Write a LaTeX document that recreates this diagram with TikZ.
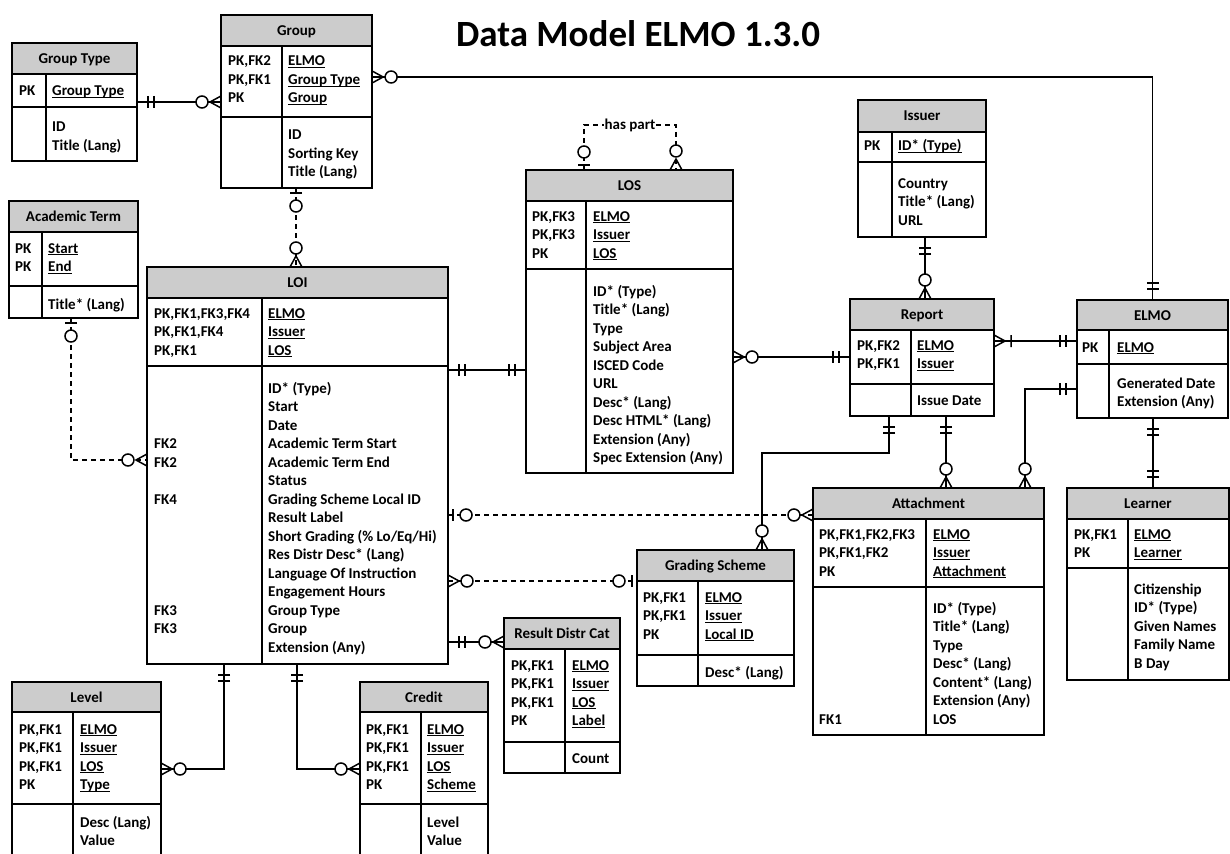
\documentclass[tikz,border=0pt]{standalone}
\usepackage{fontspec}
\setmainfont{Carlito}
\usetikzlibrary{fit,decorations.markings}
\definecolor{headgray}{RGB}{204,204,204}
\newcommand\bodyfont{\fontsize{15}{18}\selectfont\bfseries}
\newcommand\titlefont{\fontsize{37}{44}\selectfont\bfseries}
\newsavebox\keybox
\newcommand\keyname[1]{\sbox\keybox{#1}\rlap{\rule[-2.4pt]{\wd\keybox}{1.2pt}}\usebox\keybox}
% ER end symbols, drawn along the path direction (end at x=0)
\newcommand\erOne{\draw[sym] (-11,-6) -- (-11,6) (-17,-6) -- (-17,6);}
\newcommand\erZeroMany{\draw[sym] (0,-6) -- (-11,0) -- (0,6); \draw[sym,fill=white] (-19,0) circle (6pt);}
\newcommand\erZeroOne{\draw[sym] (-5,-6) -- (-5,6); \draw[sym,fill=white] (-18,0) circle (6pt);}
\newcommand\erOneMany{\draw[sym] (0,-6) -- (-11,0) -- (0,6) (-17,-6) -- (-17,6);}
\tikzset{
  cell/.style={anchor=base west, inner sep=0pt, font=\bodyfont},
  head/.style={anchor=base, inner sep=0pt, font=\bodyfont},
  rel/.style={line width=1.5pt},
  rdash/.style={dash pattern=on 5pt off 4pt},
  sym/.style={solid, line width=1.5pt},
  sym end/.style={postaction={decorate,decoration={markings,mark=at position 0.9999 with {#1}}}},
  sym start/.style={postaction={decorate,decoration={markings,mark=at position 0.0001 with {\begin{scope}[xscale=-1]#1\end{scope}}}}},
}
% name, title, x1, y1, x2, y2, header bottom, key bottom, divider
\newcommand\entity[9]{%
  \fill[headgray] (#3,#4) rectangle (#5,#7);
  \draw[line width=1.7pt] (#3,#7) -- (#5,#7) (#3,#8) -- (#5,#8) (#9,#7) -- (#9,#6);
  \node[fit={(#3,#4) (#5,#6)}, draw, line width=1.7pt, inner sep=0pt, outer sep=0pt] (#1) {};
  \node[head] (#1-t) at ({(#3+#5)/2},{(#4+#7)/2+5}) {#2};
}
\newcommand\cells[4]{\foreach \t [count=\i] in {#4} \node[cell] (#1\i) at (#2,{#3+18.5*(\i-1)}) {\t};}
\newcommand\pkcells[4]{\foreach \t [count=\i] in {#4} \node[cell] (#1\i) at (#2,{#3+18.5*(\i-1)}) {\keyname{\t}};}
\begin{document}
\begin{tikzpicture}[x=1pt, y=-1pt]
\useasboundingbox (0,0) rectangle (1230,853);
\node[anchor=base, font=\titlefont] (title) at (638,47) {Data Model ELMO 1.3.0};
% tables
\entity{gtype}{Group Type}{12}{43}{137}{161}{74}{107}{46}
\cells{gtype-k}{19}{96}{PK}
\pkcells{gtype-p}{52}{96}{Group Type}
\cells{gtype-a}{52}{132}{ID,Title (Lang)}
\entity{group}{Group}{221}{15}{372}{188}{46}{117}{282}
\cells{group-k}{228}{66}{{PK,FK2},{PK,FK1},PK}
\pkcells{group-p}{288}{66}{ELMO,Group Type,Group}
\cells{group-a}{288}{140}{ID,Sorting Key,Title (Lang)}
\entity{acterm}{Academic Term}{9}{201}{138}{318}{232}{286}{42}
\cells{acterm-k}{15}{253}{PK,PK}
\pkcells{acterm-p}{48}{253}{Start,End}
\cells{acterm-a}{48}{309}{Title* (Lang)}
\entity{loi}{LOI}{147}{267}{448}{664}{298}{366}{262}
\cells{loi-k}{154}{318}{{PK,FK1,FK3,FK4},{PK,FK1,FK4},{PK,FK1}}
\pkcells{loi-p}{268}{318}{ELMO,Issuer,LOS}
\cells{loi-a}{268}{393}{ID* (Type),Start,Date,Academic Term Start,Academic Term End,Status,Grading Scheme Local ID,Result Label,Short Grading (\% Lo/Eq/Hi),Res Distr Desc* (Lang),Language Of Instruction,Engagement Hours,Group Type,Group,Extension (Any)}
\foreach \t/\r in {FK2/4,FK2/5,FK4/7,FK3/13,FK3/14}
  \node[cell] (loi-f\r) at (154,{393+18.5*(\r-1)}) {\t};
\entity{los}{LOS}{526}{170}{733}{473}{201}{269}{586}
\cells{los-k}{532}{221}{{PK,FK3},{PK,FK3},PK}
\pkcells{los-p}{593}{221}{ELMO,Issuer,LOS}
\cells{los-a}{593}{296}{ID* (Type),Title* (Lang),Type,Subject Area,ISCED Code,URL,Desc* (Lang),Desc HTML* (Lang),Extension (Any),Spec Extension (Any)}
\entity{issuer}{Issuer}{858}{100}{986}{237}{132}{162}{892}
\cells{issuer-k}{864}{151}{PK}
\pkcells{issuer-p}{898}{151}{ID* (Type)}
\cells{issuer-a}{898}{188}{Country,Title* (Lang),URL}
\entity{report}{Report}{850}{299}{994}{416}{330}{384}{911}
\cells{report-k}{857}{350}{{PK,FK2},{PK,FK1}}
\pkcells{report-p}{917}{350}{ELMO,Issuer}
\cells{report-a}{917}{405}{Issue Date}
\entity{elmo}{ELMO}{1077}{300}{1228}{418}{330}{364}{1109}
\cells{elmo-k}{1082}{352}{PK}
\pkcells{elmo-p}{1117}{352}{ELMO}
\cells{elmo-a}{1117}{388}{Generated Date,Extension (Any)}
\entity{attach}{Attachment}{813}{488}{1044}{735}{519}{587}{926}
\cells{attach-k}{819}{539}{{PK,FK1,FK2,FK3},{PK,FK1,FK2},PK}
\pkcells{attach-p}{933}{539}{ELMO,Issuer,Attachment}
\cells{attach-a}{933}{613}{ID* (Type),Title* (Lang),Type,Desc* (Lang),Content* (Lang),Extension (Any),LOS}
\node[cell] (attach-f7) at (819,{613+18.5*6}) {FK1};
\entity{learner}{Learner}{1067}{488}{1229}{680}{519}{568}{1128}
\cells{learner-k}{1074}{539}{{PK,FK1},PK}
\pkcells{learner-p}{1134}{539}{ELMO,Learner}
\cells{learner-a}{1134}{594}{Citizenship,ID* (Type),Given Names,Family Name,B Day}
\entity{gscheme}{Grading Scheme}{637}{550}{794}{686}{581}{655}{698}
\cells{gscheme-k}{643}{602}{{PK,FK1},{PK,FK1},PK}
\pkcells{gscheme-p}{705}{602}{ELMO,Issuer,Local ID}
\cells{gscheme-a}{705}{677}{Desc* (Lang)}
\entity{rdcat}{Result Distr Cat}{504}{618}{620}{773}{649}{742}{565}
\cells{rdcat-k}{511}{670}{{PK,FK1},{PK,FK1},{PK,FK1},PK}
\pkcells{rdcat-p}{572}{670}{ELMO,Issuer,LOS,Label}
\cells{rdcat-a}{572}{763}{Count}
\entity{level}{Level}{12}{682}{161}{862}{712}{804}{73}
\cells{level-k}{19}{734}{{PK,FK1},{PK,FK1},{PK,FK1},PK}
\pkcells{level-p}{80}{734}{ELMO,Issuer,LOS,Type}
\cells{level-a}{80}{827}{Desc (Lang),Value}
\entity{credit}{Credit}{360}{682}{488}{862}{712}{804}{421}
\cells{credit-k}{366}{734}{{PK,FK1},{PK,FK1},{PK,FK1},PK}
\pkcells{credit-p}{427}{734}{ELMO,Issuer,LOS,Scheme}
\cells{credit-a}{427}{827}{Level,Value}
% relations
\draw[rel, sym start=\erOne, sym end=\erZeroMany] (gtype.east |- 0,102) -- (group.west |- 0,102);
\draw[rel, sym start=\erZeroMany, sym end=\erOne] (group.east |- 0,77) -| (elmo.north);
\draw[rel, rdash, sym start=\erZeroOne, sym end=\erZeroMany] (group.south -| 296,0) -- (loi.north -| 296,0);
\draw[rel, rdash, sym start=\erZeroOne, sym end=\erZeroMany] (acterm.south -| 71,0) |- (loi.west |- 0,460);
\draw[rel, rdash, sym start=\erZeroOne, sym end=\erZeroMany] (los.north -| 584,0) -- ++(0,-45)
  -| node[pos=0.25, fill=white, inner sep=1pt, font=\bodyfont] (haspart) {has part} (los.north -| 676,0);
\draw[rel, sym start=\erOne, sym end=\erOne] (loi.east |- 0,370) -- (los.west |- 0,370);
\draw[rel, sym start=\erZeroMany, sym end=\erOne] (los.east |- 0,357) -- (report.west |- 0,357);
\draw[rel, sym start=\erOne, sym end=\erZeroMany] (issuer.south -| 925,0) -- (report.north -| 925,0);
\draw[rel, sym start=\erOneMany, sym end=\erOne] (report.east |- 0,341) -- (elmo.west |- 0,341);
\draw[rel, sym start=\erOne, sym end=\erZeroMany] (elmo.west |- 0,389) -| (attach.north -| 1025,0);
\draw[rel, sym start=\erOne, sym end=\erZeroMany] (report.south -| 946,0) -- (attach.north -| 946,0);
\draw[rel, sym start=\erOne, sym end=\erZeroMany] (report.south -| 889,0) |- (762,453) -- (gscheme.north -| 762,0);
\draw[rel, sym start=\erOne, sym end=\erOne] (elmo.south -| 1153,0) -- (learner.north -| 1153,0);
\draw[rel, rdash, sym start=\erZeroOne, sym end=\erZeroMany] (loi.east |- 0,515) -- (attach.west |- 0,515);
\draw[rel, rdash, sym start=\erZeroMany, sym end=\erZeroOne] (loi.east |- 0,581) -- (gscheme.west |- 0,581);
\draw[rel, sym start=\erOne, sym end=\erZeroMany] (loi.east |- 0,642) -- (rdcat.west |- 0,642);
\draw[rel, sym start=\erOne, sym end=\erZeroMany] (loi.south -| 224,0) |- (level.east |- 0,769);
\draw[rel, sym start=\erOne, sym end=\erZeroMany] (loi.south -| 297,0) |- (credit.west |- 0,769);
\end{tikzpicture}
\end{document}
